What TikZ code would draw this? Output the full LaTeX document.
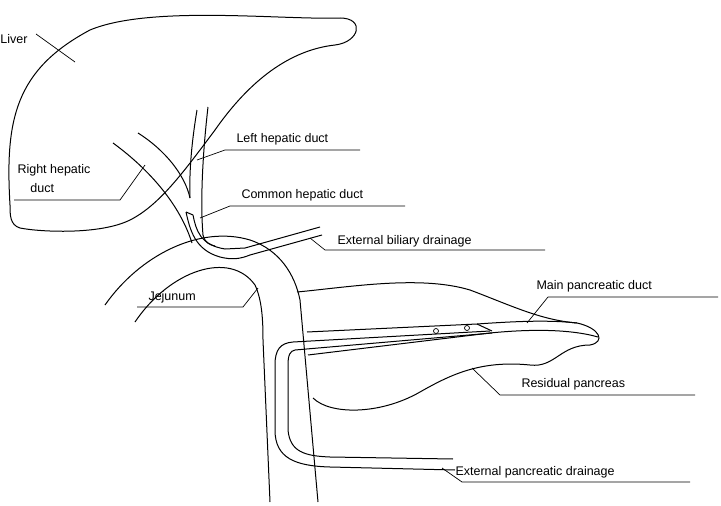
\documentclass[tikz,border=0pt]{standalone}
\usepackage{fontspec}
\setmainfont{Liberation Sans}
\begin{document}
\begin{tikzpicture}[x=1pt,y=-1pt,line width=1pt,
  lbl/.style={anchor=base west,font=\fontsize{12.5}{15}\selectfont,inner sep=0pt},
  ld/.style={line width=0.7pt}]
\useasboundingbox (0,0) rectangle (721,506);
% liver
\draw (10,205) .. controls (5,120) and (15,70) .. (90,30)
  .. controls (150,5) and (280,20) .. (340,18)
  .. controls (365,18) and (360,42) .. (335,45)
  .. controls (290,50) and (250,80) .. (215,130)
  .. controls (185,170) and (160,205) .. (130,220)
  .. controls (100,235) and (40,232) .. (20,228)
  .. controls (10,225) and (10,215) .. (10,205);
% right hepatic duct
\draw (113,143) .. controls (150,170) and (180,205) .. (192,243);
\draw (138,133) .. controls (165,150) and (185,175) .. (190,198);
% left hepatic duct
\draw (197,110) .. controls (192,140) and (189,170) .. (190,198);
\draw (208,107) .. controls (203,150) and (200,200) .. (203,235) .. controls (205,243) and (210,245) .. (215,246);
% biliary drain
\draw (186,212) -- (193,215);
\draw (186,212) .. controls (190,230) and (195,250) .. (220,257) .. controls (232,260) and (240,259) .. (250,255) -- (322,235);
\draw (193,215) .. controls (196,230) and (200,245) .. (225,249) -- (245,248) -- (320,227);
% jejunum
\draw (105,305) .. controls (140,255) and (200,225) .. (250,240)
  .. controls (280,250) and (295,275) .. (300,300) -- (318,502);
\draw (135,322) .. controls (170,270) and (230,250) .. (255,285) .. controls (262,300) and (263,320) .. (263,340) -- (270,502);
% pancreas
\draw (297,292) .. controls (350,287) and (420,275) .. (470,290)
  .. controls (510,305) and (540,320) .. (577,323)
  .. controls (600,328) and (606,342) .. (590,345)
  .. controls (560,345) and (555,368) .. (530,365)
  .. controls (480,360) and (450,375) .. (420,392)
  .. controls (380,415) and (330,415) .. (313,398);
\draw (307,332) -- (477,324) .. controls (520,321) and (550,320) .. (577,323);
\draw (308,355) -- (490,333) .. controls (530,329) and (570,329) .. (598,337);
\draw (477,324) -- (492,331);
\draw[line width=0.7pt] (436,331) circle (2.5) (467,328) circle (2.5);
% pancreatic drain
\draw (490,331) -- (293,342) .. controls (280,343) and (275,350) .. (275,365) -- (275,430)
  .. controls (275,458) and (295,466) .. (330,467) -- (455,470);
\draw (492,333) -- (295,350) .. controls (290,351) and (288,355) .. (288,365) -- (288,430)
  .. controls (290,452) and (305,456) .. (330,457) -- (453,459);
% labels
\node[lbl] (liver) at (0,43) {Liver};
\draw[ld] (36,34) -- (75,62);
\node[lbl] (rhd1) at (17,173) {Right hepatic};
\node[lbl] (rhd2) at (30,192) {duct};
\draw[ld] (14,200) -- (120,200) -- (145,165);
\node[lbl] (lhd) at (236,142) {Left hepatic duct};
\draw[ld] (360,150) -- (225,150) -- (197,160);
\node[lbl] (chd) at (241,198) {Common hepatic duct};
\draw[ld] (405,206) -- (230,206) -- (200,218);
\node[lbl] (ebd) at (337,244) {External biliary drainage};
\draw[ld] (545,250) -- (325,250) -- (310,238);
\node[lbl] (mpd) at (536,289) {Main pancreatic duct};
\draw[ld] (718,297) -- (548,297) -- (527,323);
\node[lbl] (jej) at (148,300) {Jejunum};
\draw[ld] (137,307) -- (243,307) -- (258,288);
\node[lbl] (rp) at (521,387) {Residual pancreas};
\draw[ld] (695,395) -- (500,395) -- (472,368);
\node[lbl] (epd) at (455,475) {External pancreatic drainage};
\draw[ld] (690,482) -- (462,482) -- (442,468);
\end{tikzpicture}
\end{document}
